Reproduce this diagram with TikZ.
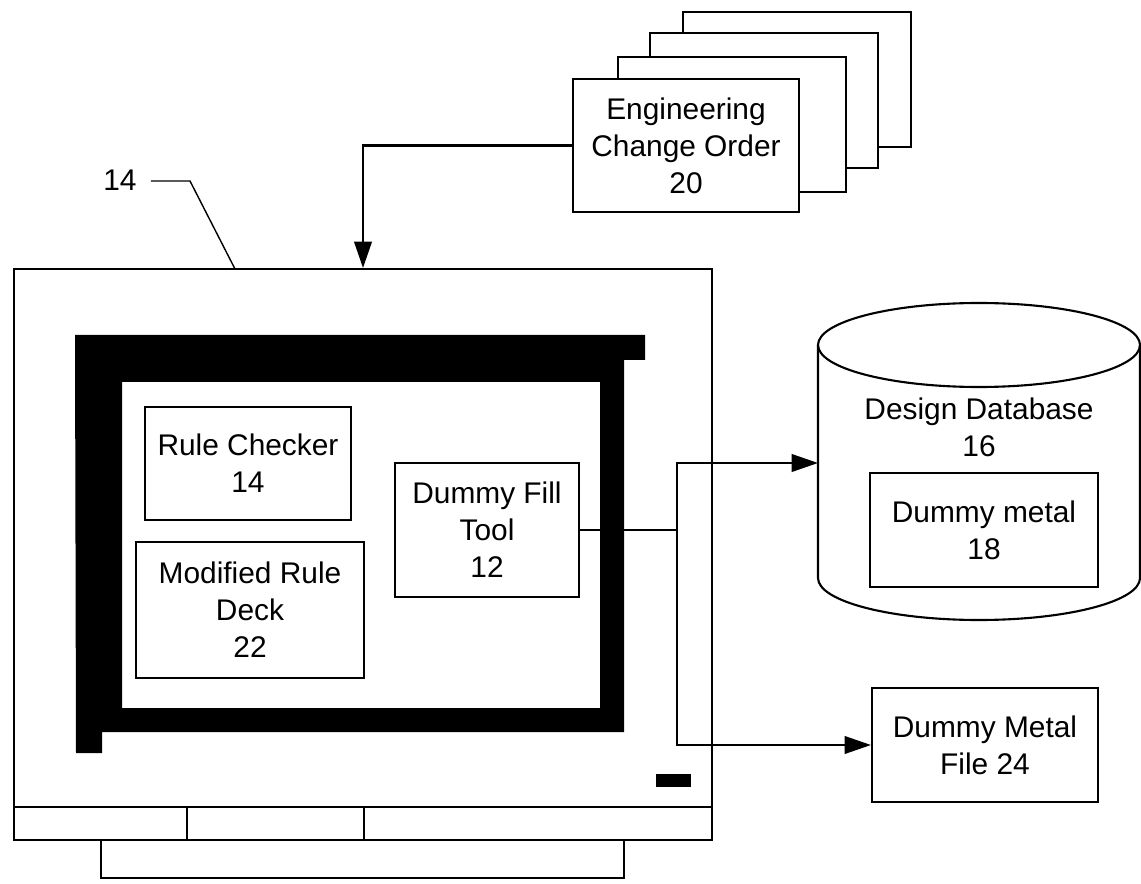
\documentclass[tikz,border=0pt]{standalone}
\usepackage{fontspec}
\setmainfont{Liberation Sans}
\usepackage{tikz}
\usetikzlibrary{positioning, arrows.meta}

\begin{document}
\begin{tikzpicture}[
    x=0.02cm, y=-0.02cm,
    outline/.style={line width=1.2pt},
    block/.style={draw, outline, fill=white, align=center, inner sep=0pt,
        font=\fontsize{17}{21}\selectfont},
    plain/.style={align=center, font=\fontsize{17}{21}\selectfont},
    arrow/.style={-{Triangle[length=15pt, width=10pt]}, outline}
]
    \useasboundingbox (0,0) rectangle (1141,884);

    % Change order stack
    \foreach \cx/\cy in {683/12, 650/33, 618/57}
        \draw[outline, fill=white] (\cx,\cy) rectangle ++(228,135);
    \node[block, minimum width=4.52cm, minimum height=2.66cm] (eco) at (686,145.5)
        {Engineering\\Change Order\\20};

    % Monitor
    \node[draw, outline, minimum width=13.96cm, minimum height=10.76cm] (monitor) at (363,538) {};
    \fill[even odd rule] (75,335) -- (645,335) -- (645,360) -- (624,360) -- (624,732)
        -- (102,732) -- (102,753) -- (76,753) -- cycle (122,382) rectangle (600,708);
    \fill (656,774) rectangle (691,787);
    \draw[outline] (14,807) rectangle (712,840);
    \draw[outline] (187,807) -- (187,840);
    \draw[outline] (364,807) -- (364,840);
    \draw[outline] (101,840) rectangle (624,878);

    % Label 14
    \node[plain] (lbl) at (120,180) {14};
    \draw[line width=0.8pt] (lbl.east) ++(8,1) -- (190,181) -- (235,269);

    % Screen contents
    \node[block, minimum width=4.12cm, minimum height=2.26cm] (checker) at (248,463.5)
        {Rule Checker\\14};
    \node[block, minimum width=4.56cm, minimum height=2.72cm] (deck) at (250,610)
        {Modified Rule\\Deck\\22};
    \node[block, minimum width=3.68cm, minimum height=2.68cm] (filltool) at (487,530)
        {Dummy Fill\\Tool\\12};

    % Design database
    \draw[outline] (818,345) -- (818,578) arc[start angle=180, end angle=0,
        x radius=161, y radius=42] -- (1140,345);
    \draw[outline] (979,345) ellipse [x radius=161, y radius=42];
    \node[plain] (dbtext) at (979,427) {Design Database\\16};
    \node[block, minimum width=4.56cm, minimum height=2.28cm] (dmetal) at (984,530)
        {Dummy metal\\18};
    \coordinate (dbin) at (818,463);

    % Dummy metal file
    \node[block, minimum width=4.52cm, minimum height=2.28cm] (dmfile) at (985,745)
        {Dummy Metal\\File 24};

    % Arrows
    \coordinate (split) at (677,530);
    \draw[arrow] (eco.west) -| (monitor.north);
    \draw[outline] (filltool.east) -- (split);
    \draw[arrow] (split) |- (dbin);
    \draw[arrow] (split) |- (dmfile.west);

\end{tikzpicture}
\end{document}
